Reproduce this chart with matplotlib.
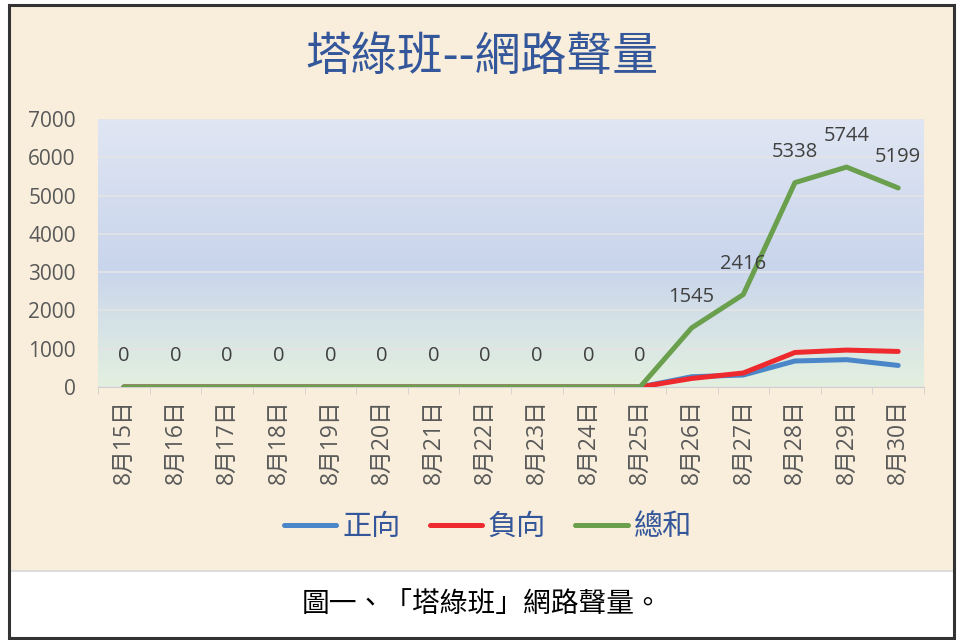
import numpy as np
import matplotlib
matplotlib.use('Agg')
import matplotlib.pyplot as plt
from matplotlib.patches import Rectangle
from matplotlib.colors import LinearSegmentedColormap

plt.rcParams['font.family'] = ['Noto Sans CJK TC', 'DejaVu Sans']
num_font = ['Open Sans', 'Noto Sans CJK TC']

# data
days = ['8月%d日' % d for d in range(15, 31)]
positive = [0] * 11 + [268, 313, 679, 714, 563]
negative = [0] * 11 + [223, 366, 902, 964, 929]
total = [0] * 11 + [1545, 2416, 5338, 5744, 5199]

series = [('正向', positive, '#4a86c8'),
          ('負向', negative, '#ee2a2e'),
          ('總和', total, '#6a9f4d')]

fig = plt.figure(figsize=(9.76, 6.4), dpi=100)
fig.patch.set_facecolor('white')

# parchment area, caption box, frame
fig.patches.append(Rectangle((11 / 976, 1 - 571 / 640), 942 / 976, 565 / 640,
                             transform=fig.transFigure, facecolor='#f8eedb',
                             edgecolor='none', zorder=-10))
fig.add_artist(plt.Line2D([11 / 976, 953 / 976], [1 - 571 / 640] * 2,
                          color='#d8d8d8', lw=1.2, transform=fig.transFigure,
                          zorder=-5))
frame = Rectangle((9 / 976, 1 - 638 / 640), 945 / 976, 633 / 640,
                  transform=fig.transFigure, facecolor='none',
                  edgecolor='#333333', lw=2.2, zorder=5)
fig.patches.append(frame)

ax = fig.add_axes([98 / 976, 1 - 387 / 640, 826 / 976, 268 / 640])
ax.set_zorder(1)
ax.set_facecolor('none')

# gradient plot background
cmap = LinearSegmentedColormap.from_list('bg', [
    (0.0, (227 / 255, 240 / 255, 223 / 255)),
    (0.15, (218 / 255, 231 / 255, 228 / 255)),
    (0.45, (201 / 255, 213 / 255, 236 / 255)),
    (1.0, (224 / 255, 230 / 255, 243 / 255))])
grad = np.linspace(0, 1, 256).reshape(-1, 1)
x = np.arange(len(days))
ax.imshow(grad, cmap=cmap, origin='lower', aspect='auto',
          extent=[-0.5, len(days) - 0.5, 0, 7000], zorder=0)

for name, vals, col in series:
    ax.plot(x, vals, color=col, lw=3.6, label=name, zorder=3,
            solid_capstyle='round', solid_joinstyle='round')

for xi, v in zip(x, total):
    ax.annotate(str(v), (xi, v), xytext=(0, 15), textcoords='offset points',
                ha='center', va='bottom', fontsize=14.5, color='#404040',
                family=num_font)

ax.set_xlim(-0.5, len(days) - 0.5)
ax.set_ylim(0, 7000)
ax.set_yticks(range(0, 7001, 1000))
ax.grid(axis='y', color='#e4e4e4', lw=1.2, zorder=1)
ax.set_axisbelow(True)

ax.set_xticks(x)
ax.set_xticklabels(days, rotation=90, fontsize=16.5, color='#595959',
                   family=num_font)
ax.set_xticks(np.arange(-0.5, len(days)), minor=True)
ax.tick_params(axis='x', which='major', length=0, pad=9)
ax.tick_params(axis='x', which='minor', length=5, color='#d0d0d0')
ax.tick_params(axis='y', length=0, pad=16, labelsize=15, labelcolor='#595959')
for t in ax.get_yticklabels():
    t.set_family(num_font)

for s in ['top', 'right', 'left']:
    ax.spines[s].set_visible(False)
ax.spines['bottom'].set_color('#d0d0d0')

fig.text(0.494, 1 - 57 / 640, '塔綠班--網路聲量', ha='center', va='center',
         fontsize=33, color='#34569a', fontweight='light')

leg = fig.legend(loc='center', bbox_to_anchor=(0.5, 1 - 527 / 640), ncol=3,
                 frameon=False, fontsize=21, handlelength=1.8,
                 columnspacing=1.0, handletextpad=0.2)
for t in leg.get_texts():
    t.set_color('#34569a')

fig.text(0.494, 1 - 604 / 640, '圖一、「塔綠班」網路聲量。', ha='center',
         va='center', fontsize=20, color='black')

fig.savefig('out.png', dpi=100, facecolor=fig.get_facecolor())
